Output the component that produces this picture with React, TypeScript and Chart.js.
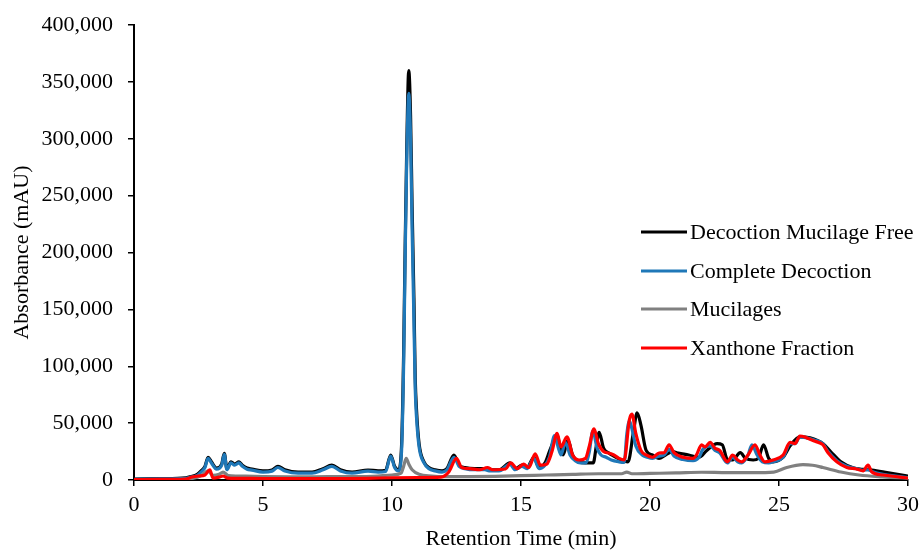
import React, { useEffect, useRef } from "react";
import { Chart, registerables } from "chart.js";

Chart.register(...registerables);

const FONT = "'Liberation Serif', 'Times New Roman', serif";

const seriesNames = ["Decoction Mucilage Free", "Complete Decoction", "Mucilages", "Xanthone Fraction"];
const seriesColors = ["#000000", "#1f78b8", "#808080", "#ff0000"];
const xAxisTitle = "Retention Time (min)";
const yAxisTitle = "Absorbance (mAU)";

// Decoction Mucilage Free
const timeMucFree = [0,1,2,2.2,2.45,2.6,2.75,2.87,3.0,3.2,3.4,3.5,3.6,3.76,3.9,4.07,4.2,4.38,4.57,5.0,5.35,5.58,5.85,6.36,6.9,7.3,7.67,8.0,8.45,9.07,9.46,9.75,9.95,10.1,10.25,10.37,10.45,10.5,10.57,10.65,10.72,10.78,10.85,10.9,10.95,11.05,11.24,11.43,11.67,11.94,12.13,12.4,12.6,12.83,13.2,13.6,13.76,14.15,14.57,14.77,15.04,15.23,15.5,15.7,15.93,16.1,16.28,16.4,16.5,16.63,16.82,17.0,17.25,17.5,17.8,17.92,18.03,18.2,18.4,18.6,18.88,19.15,19.35,19.5,19.65,19.85,20.1,20.35,20.6,20.87,21.1,21.5,21.9,22.2,22.6,22.8,23.0,23.2,23.5,23.7,24.0,24.2,24.4,24.6,24.77,25.16,25.43,25.81,26.2,26.7,27.0,27.4,27.9,28.6,29.3,30];
const absMucFree = [800,1200,2000,3000,5000,8000,12000,20000,16000,10500,14000,23500,10000,16000,14000,16000,13000,10500,9700,8000,8800,12000,9000,7000,7000,9700,13000,9000,7000,8800,8000,8500,22000,12000,9000,30000,110000,190000,290000,360000,320000,240000,160000,90000,62000,32000,16000,11000,9000,8000,10000,22000,13000,11000,10000,10000,9000,9000,15000,10000,13000,11000,20000,11000,15000,25000,35000,40000,30000,22000,35000,22000,15800,15000,15000,30000,42000,28000,23700,21000,17600,16000,41000,59000,48000,26000,22000,19000,22000,25000,23700,22000,20000,26000,32000,31000,18000,17600,24000,19000,17600,19000,31000,19000,16000,20000,30000,38000,37000,32000,25000,16000,10500,8800,6000,3500];

// Complete Decoction
const timeComplete = [0,1,2,2.2,2.45,2.6,2.75,2.87,3.0,3.2,3.4,3.5,3.6,3.76,3.9,4.07,4.2,4.38,4.57,5.0,5.35,5.58,5.85,6.36,6.9,7.3,7.67,8.0,8.45,9.07,9.46,9.75,9.95,10.1,10.25,10.37,10.45,10.5,10.57,10.65,10.72,10.78,10.85,10.9,10.95,11.05,11.24,11.43,11.67,11.94,12.13,12.4,12.6,12.83,13.2,13.6,13.76,14.15,14.57,14.77,15.04,15.23,15.5,15.7,15.93,16.1,16.3,16.45,16.55,16.72,16.9,17.1,17.3,17.5,17.65,17.78,17.95,18.1,18.3,18.5,18.8,19.0,19.1,19.2,19.3,19.45,19.7,19.9,20.1,20.35,20.55,20.74,20.93,21.28,21.67,21.9,22.05,22.33,22.52,22.7,23.0,23.2,23.4,23.55,23.8,23.95,24.15,24.35,24.6,24.77,25.16,25.43,25.62,25.81,26.08,26.4,26.7,26.9,27.24,27.63,28.0,28.26,28.45,28.6,29.03,29.7,30];
const absComplete = [500,1000,1500,2500,4000,7000,11000,19000,15000,9500,13000,22500,9000,15000,13000,15000,12000,9500,8700,7000,7800,11000,8000,6000,6000,8700,12000,8000,6000,7800,7000,7500,21000,11000,8000,25000,100000,180000,280000,340000,300000,220000,140000,80000,55000,29000,15000,10000,8000,7000,9000,20000,12000,10000,9000,9000,8000,8000,14000,9000,12000,10000,19000,10000,13000,20000,39000,28000,22000,33000,22000,17000,15000,15000,25000,43000,28000,22000,20000,17600,16000,15500,40000,52000,45000,30000,22000,20000,19000,21000,22000,27000,21000,18000,17000,20000,27000,30000,26000,24000,15000,20000,16000,15000,22000,31000,22000,16000,15000,16000,20000,32000,32000,38000,37000,35000,32000,25000,17000,12000,10000,8500,9000,7500,5000,3000,2000];

// Mucilages
const timeMucilages = [0,2,2.3,2.6,2.87,3.05,3.3,3.45,3.65,4.0,5,6,7,8,9,10,10.35,10.45,10.55,10.65,10.78,11.05,11.55,12,13,14,15,16,17,18,18.9,19.1,19.3,20,21,22,23,24,24.8,25.3,25.93,26.3,26.7,27.4,28.1,29,30];
const absMucilages = [0,500,1500,4000,8000,4000,5000,7000,4000,3500,3000,2800,2800,3000,3000,4400,6000,12000,19000,14000,9000,5000,3500,3000,3000,3200,3800,4400,5000,5500,5500,7000,5500,5800,6200,6800,6500,6500,7000,11000,13500,13000,11000,7000,4400,2800,1700];

// Xanthone Fraction
const timeXanthone = [0,1,2,2.25,2.5,2.75,2.94,3.06,3.3,3.45,3.64,4,5,6,7,8,9,10,11,11.9,12.2,12.5,12.7,13.0,13.4,13.7,13.9,14.4,14.6,14.85,15.1,15.3,15.55,15.75,16.0,16.2,16.4,16.55,16.78,17.0,17.25,17.5,17.65,17.83,18.0,18.2,18.4,18.6,18.8,19.0,19.2,19.3,19.45,19.65,19.85,20.1,20.35,20.55,20.74,20.93,21.28,21.67,21.8,22.0,22.13,22.33,22.52,22.7,23.0,23.2,23.4,23.55,23.8,24.07,24.26,24.45,24.77,25.16,25.43,25.62,25.81,26.08,26.4,26.7,26.9,27.24,27.63,28.0,28.26,28.45,28.6,29.03,29.7,30];
const absXanthone = [300,500,800,2600,3500,4400,9000,1700,2500,3500,1700,1500,1300,1200,1200,1300,1500,2000,2200,2500,7000,19000,11000,10000,9000,11000,9000,9700,15000,10000,14000,11000,23000,13000,14000,25000,41000,29000,38000,22000,17600,19000,30000,45000,32000,25000,23700,22000,19000,17600,53000,58000,41000,26000,22000,20000,23700,24000,31000,24000,20000,19000,22000,31000,29000,33000,28000,26000,16000,22000,17600,16000,22000,31000,22000,16000,17600,22000,33000,32000,38700,37000,34000,31000,24000,16000,11000,9700,8000,13000,7000,4400,2600,1700];

const xMin = 0, xMax = 30, xStep = 5;
const yMin = 0, yMax = 400000, yStep = 50000;

const zip = (t: number[], v: number[]) => t.map((x, i) => ({ x, y: v[i] }));

const legendPlugin = {
  id: "insideLegend",
  afterDraw(chart: any) {
    const ctx = chart.ctx;
    const rows = [232, 271, 309, 348];
    ctx.save();
    chart.data.datasets.forEach((ds: any, i: number) => {
      const y = rows[i];
      ctx.strokeStyle = ds.borderColor;
      ctx.lineWidth = 3;
      ctx.beginPath();
      ctx.moveTo(641, y);
      ctx.lineTo(687, y);
      ctx.stroke();
      ctx.fillStyle = "#000";
      ctx.font = `22px ${FONT}`;
      ctx.textAlign = "left";
      ctx.textBaseline = "middle";
      ctx.fillText(ds.label, 690, y + 1);
    });
    ctx.restore();
  },
};

export default function App() {
  const ref = useRef<HTMLCanvasElement | null>(null);
  useEffect(() => {
    if (!ref.current) return;
    const series = [
      zip(timeMucFree, absMucFree),
      zip(timeComplete, absComplete),
      zip(timeMucilages, absMucilages),
      zip(timeXanthone, absXanthone),
    ];
    const orders = [4, 3, 2, 1];
    const chart = new Chart(ref.current, {
      type: "line",
      data: {
        datasets: series.map((d, i) => ({
          label: seriesNames[i],
          data: d,
          borderColor: seriesColors[i],
          backgroundColor: seriesColors[i],
          borderWidth: 3.2,
          pointRadius: 0,
          fill: false,
          cubicInterpolationMode: "monotone" as const,
          order: orders[i],
        })),
      },
      options: {
        animation: false,
        responsive: false,
        devicePixelRatio: 1,
        layout: { padding: { left: 0, right: 14, top: 25, bottom: 0 } },
        plugins: { legend: { display: false }, tooltip: { enabled: false } },
        scales: {
          x: {
            type: "linear",
            min: xMin,
            max: xMax,
            afterFit: (s: any) => { s.height = 70; s.paddingLeft = 0; s.paddingRight = 0; },
            ticks: { stepSize: xStep, color: "#000", font: { family: FONT, size: 22 }, padding: 6, maxRotation: 0 },
            grid: { drawOnChartArea: false, drawTicks: true, tickLength: 6, color: "#000", lineWidth: 1.5 },
            border: { color: "#000", width: 2 },
            title: { display: true, text: xAxisTitle, color: "#000", font: { family: FONT, size: 22, lineHeight: 1 }, padding: { top: 0, bottom: 0 } },
          },
          y: {
            type: "linear",
            min: yMin,
            max: yMax,
            afterFit: (s: any) => { s.width = 134; s.paddingTop = 0; s.paddingBottom = 0; },
            ticks: { stepSize: yStep, color: "#000", font: { family: FONT, size: 22 }, padding: 15, callback: (v: any) => Number(v).toLocaleString("en-US") },
            grid: { drawOnChartArea: false, drawTicks: true, tickLength: 6, color: "#000", lineWidth: 1.5 },
            border: { color: "#000", width: 2 },
            title: { display: true, text: yAxisTitle, color: "#000", font: { family: FONT, size: 22, lineHeight: 1 }, padding: { top: 11, bottom: 0 } },
          },
        },
      },
      plugins: [legendPlugin],
    });
    return () => chart.destroy();
  }, []);
  return (
    <div style={{ position: "absolute", left: 0, top: 0, width: 922, height: 550, background: "#fff" }}>
      <canvas ref={ref} width={922} height={550} />
    </div>
  );
}
